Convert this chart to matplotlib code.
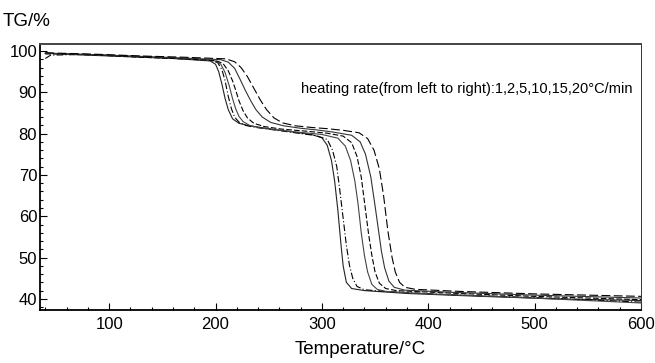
import matplotlib.pyplot as plt
from matplotlib.ticker import MultipleLocator

plt.rcParams['font.family'] = ['Liberation Sans', 'DejaVu Sans']

# TG curves, heating rates 1,2,5,10,15,20 C/min
t_r1 = [40, 45, 80, 120, 160, 195, 200, 203, 206, 209, 212, 216, 222, 232, 250, 270, 290, 300, 305, 309, 312, 315, 318, 320, 323, 328, 340, 380, 450, 520, 600]
tg_r1 = [99.4, 99.4, 99.0, 98.6, 98.2, 97.6, 96.8, 95.0, 92.0, 88.5, 85.8, 83.6, 82.5, 81.9, 81.2, 80.5, 79.8, 79.0, 77.2, 73.5, 68.5, 61.5, 53.0, 48.0, 44.0, 42.5, 42.0, 41.3, 40.6, 40.0, 39.6]

t_r2 = [40, 45, 80, 120, 160, 195, 202, 206, 209, 212, 215, 218, 222, 228, 238, 255, 275, 295, 305, 310, 314, 317, 320, 323, 326, 329, 333, 340, 360, 420, 500, 600]
tg_r2 = [98.2, 99.0, 99.2, 98.7, 98.3, 97.8, 97.2, 95.5, 92.8, 89.0, 86.0, 84.0, 82.8, 82.0, 81.5, 80.9, 80.2, 79.5, 78.6, 76.0, 72.0, 66.0, 59.5, 53.0, 48.0, 45.0, 43.0, 42.2, 41.8, 41.0, 40.3, 39.2]

t_r5 = [40, 50, 90, 130, 170, 200, 205, 209, 213, 216, 219, 222, 226, 232, 242, 260, 280, 300, 315, 322, 327, 331, 334, 337, 340, 343, 347, 352, 360, 400, 480, 600]
tg_r5 = [99.5, 99.4, 99.0, 98.6, 98.1, 97.6, 96.8, 94.8, 91.5, 88.5, 86.0, 84.2, 82.9, 82.0, 81.4, 80.8, 80.3, 79.8, 78.9, 77.0, 73.5, 68.5, 63.0, 56.0, 50.5, 46.5, 43.5, 42.3, 41.8, 41.2, 40.4, 39.0]

t_r10 = [40, 50, 90, 130, 170, 200, 207, 212, 216, 219, 222, 226, 230, 236, 246, 262, 285, 305, 320, 328, 333, 337, 341, 344, 347, 350, 354, 360, 370, 420, 500, 600]
tg_r10 = [99.3, 99.3, 99.0, 98.5, 98.1, 97.7, 97.0, 95.2, 92.8, 90.5, 88.0, 85.5, 83.8, 82.5, 81.7, 81.1, 80.6, 80.1, 79.4, 77.8, 74.5, 69.5, 61.5, 55.5, 50.5, 46.5, 43.8, 42.5, 42.0, 41.4, 40.6, 39.8]

t_r15 = [40, 50, 90, 130, 170, 205, 212, 218, 223, 228, 233, 238, 244, 252, 264, 280, 295, 310, 328, 336, 341, 346, 350, 353, 356, 359, 363, 368, 378, 420, 500, 600]
tg_r15 = [99.4, 99.4, 99.1, 98.7, 98.3, 97.9, 97.3, 95.8, 93.2, 90.5, 88.0, 85.8, 84.0, 82.7, 81.9, 81.3, 80.9, 80.4, 79.6, 78.0, 75.0, 69.5, 62.5, 57.0, 51.5, 47.5, 44.3, 42.8, 42.1, 41.6, 40.9, 40.2]

t_r20 = [40, 50, 90, 130, 170, 210, 218, 224, 230, 236, 242, 248, 255, 263, 275, 290, 305, 320, 335, 343, 349, 354, 358, 362, 366, 369, 373, 378, 388, 430, 500, 600]
tg_r20 = [99.6, 99.5, 99.2, 98.8, 98.5, 98.1, 97.4, 96.0, 93.8, 91.0, 88.2, 85.8, 83.8, 82.6, 81.9, 81.5, 81.2, 80.8, 80.2, 78.8, 76.0, 71.5, 65.0, 56.5, 50.0, 46.5, 44.0, 42.8, 42.3, 41.8, 41.2, 40.6]

curves = [
    (t_r1, tg_r1, '-', '#222222'),
    (t_r2, tg_r2, (0, (6, 2, 1, 2)), 'black'),
    (t_r5, tg_r5, '-', '#444444'),
    (t_r10, tg_r10, (0, (5, 2)), 'black'),
    (t_r15, tg_r15, '-', '#333333'),
    (t_r20, tg_r20, (0, (8, 3)), 'black'),
]

fig = plt.figure(figsize=(6.55, 3.63), dpi=100)
ax = fig.add_axes([40 / 655, 1 - 310 / 363, 601 / 655, 266 / 363])

for t, tg, ls, c in curves:
    ax.plot(t, tg, linestyle=ls, color=c, linewidth=0.8)

ax.set_xlim(35, 600)
ax.set_ylim(37.3, 101.7)

ax.xaxis.set_major_locator(MultipleLocator(100))
ax.xaxis.set_minor_locator(MultipleLocator(20))
ax.yaxis.set_major_locator(MultipleLocator(10))
ax.yaxis.set_minor_locator(MultipleLocator(2))
ax.tick_params(which='both', direction='in', top=False, right=False, labelsize=12, width=0.8)
ax.tick_params(which='major', length=5)
ax.tick_params(which='minor', length=2.5)
ax.tick_params(axis='x', pad=5)
ax.tick_params(axis='y', pad=2)

for side in ['left', 'bottom']:
    ax.spines[side].set_linewidth(1.3)
ax.spines['top'].set_linewidth(1.4)
ax.spines['top'].set_color('#444444')
ax.spines['right'].set_linewidth(0.7)
ax.spines['right'].set_color('#333333')

ax.text(280.5, 90.8, 'heating rate(from left to right):1,2,5,10,15,20°C/min',
        fontsize=10.5, ha='left', va='center')

fig.text(360 / 655, 1 - 350 / 363, 'Temperature/°C', fontsize=13.5, ha='center', va='center')
fig.text(3 / 655, 1 - 21 / 363, 'TG/%', fontsize=13.5, ha='left', va='center')

fig.savefig('out.png', dpi=100)
